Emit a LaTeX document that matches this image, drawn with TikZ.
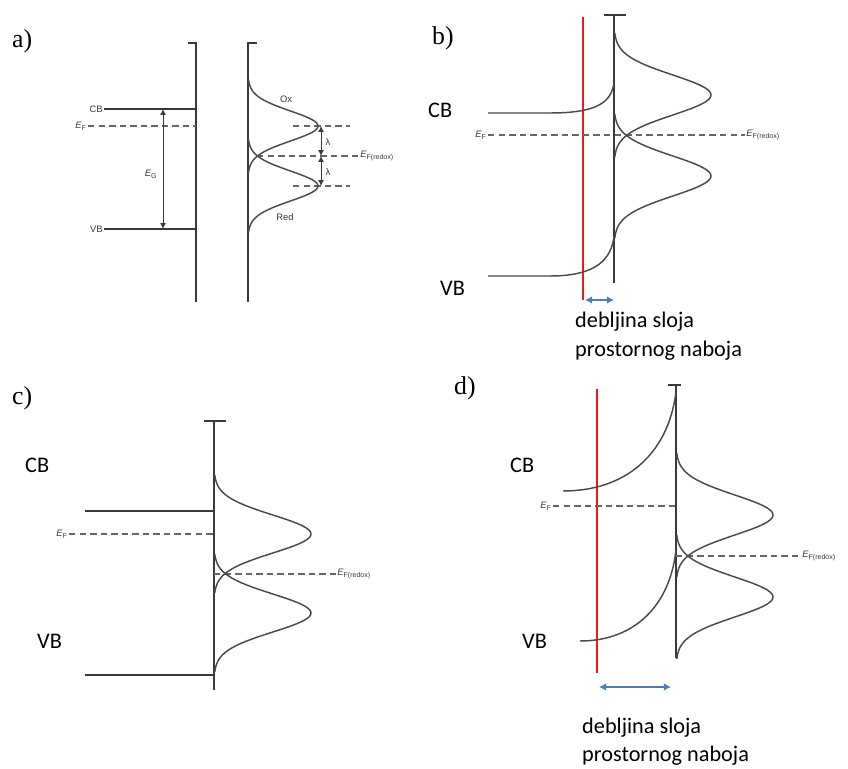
\documentclass[tikz,border=0pt]{standalone}
\usepackage{fontspec}
\setmainfont{Liberation Sans}
\newfontfamily\carlito{Carlito}
\newfontfamily\serifpl{Liberation Serif}
\usepackage{tikz}
\usetikzlibrary{arrows.meta,positioning,calc}
\definecolor{bdLine}{HTML}{3A3A3A}
\definecolor{bdCurve}{HTML}{4A4A4A}
\definecolor{bdDash}{HTML}{666666}
\definecolor{bdBlue}{HTML}{4A7EBB}
\definecolor{bdRed}{HTML}{F21818}
\newcommand{\ef}[1]{{\itshape E}\textsubscript{#1}}

\begin{document}
\begin{tikzpicture}[x=0.03cm,y=-0.03cm,
  el/.style={draw=bdLine,line width=1.7pt},
  band/.style={draw=bdLine,line width=1.4pt},
  curve/.style={draw=bdCurve,line width=1.25pt},
  lvl/.style={draw=bdDash,line width=1.1pt,dash pattern=on 5.5pt off 3.5pt},
  panel/.style={font=\serifpl\fontsize{22}{24}\selectfont,inner sep=0pt,anchor=base west},
  big/.style={font=\carlito\fontsize{19}{23}\selectfont,inner sep=0pt,anchor=base west},
  small/.style={font=\fontsize{8}{9}\selectfont,text=bdLine,inner sep=1pt},
  ar/.style={draw=bdLine,line width=0.8pt,{Latex[length=5pt,width=5pt]}-{Latex[length=5pt,width=5pt]}},
  layer/.style={draw=bdBlue,line width=1.6pt,{Latex[length=6pt,width=6.5pt]}-{Latex[length=6pt,width=6.5pt]}},
  surf/.style={draw=bdRed,line width=1.5pt}
]
\useasboundingbox (0,0) rectangle (848,769);

% a)
\node[panel] (la) at (12,48) {a)};
\draw[el] (188,43) -- (196,43) -- (196,302);
\draw[el] (257,43) -- (248,43) -- (248,302);
\node[small,anchor=east] (cbA) at (104,109) {CB};
\node[small,anchor=east] (efA) at (88,126) {\ef{F}};
\node[small,anchor=east] (vbA) at (104,229) {VB};
\draw[band] (cbA.east) -- (196,109);
\draw[band] (vbA.east) -- (196,229);
\draw[lvl] (efA.east) -- (196,126);
\coordinate (egT) at (163,109);
\coordinate (egB) at (163,229);
\draw[ar] (egT) -- (egB);
\node[small] (egA) at (151,174) {\ef{G}};
\node[small] (ox) at (286,99) {Ox};
\node[small] (red) at (285,217) {Red};
\draw[lvl] (293,126) -- (350,126);
\draw[lvl] (293,186) -- (350,186);
\node[small,anchor=west] (efrA) at (359,156) {\ef{F(redox)}};
\draw[lvl] (257,156) -- (efrA.west);
\coordinate (l1) at (321,126);
\coordinate (l2) at (321,156);
\coordinate (l3) at (321,186);
\draw[ar] (l1) -- (l2);
\draw[ar] (l2) -- (l3);
\node[small] (lam1) at (328,142) {λ};
\node[small] (lam2) at (328,172) {λ};

% b)
\node[panel] (lb) at (432,45) {b)};
\draw[el] (604,15) -- (626,15);
\draw[band] (614,15) -- (614,283);
\draw[surf] (583,17) -- (583,300);
\node[big] (cbB) at (428,118) {CB};
\node[big] (vbB) at (440,296) {VB};
\draw[curve] (488,113) -- (550,113) .. controls (598,113) and (611,102) .. (614,83);
\draw[curve] (488,276) -- (550,276) .. controls (598,276) and (611,258) .. (614,237);
\node[small,anchor=east] (efB) at (488,135) {\ef{F}};
\node[small,anchor=west] (efrB) at (745,135) {\ef{F(redox)}};
\draw[lvl] (efB.east) -- (efrB.west);
\coordinate (wB1) at (585,300);
\coordinate (wB2) at (614,300);
\draw[layer] (wB1) -- (wB2);
\node[big] (dbB1) at (575,328) {debljina sloja};
\node[big] (dbB2) at (575,356) {prostornog naboja};

% c)
\node[panel] (lc) at (12,404) {c)};
\draw[el] (204,421) -- (226,421);
\draw[band] (214,421) -- (214,690);
\node[big] (cbC) at (25,472) {CB};
\node[big] (vbC) at (37,648) {VB};
\draw[band] (85,511) -- (214,511);
\draw[band] (85,675) -- (214,675);
\node[small,anchor=east] (efC) at (69,534) {\ef{F}};
\draw[lvl] (efC.east) -- (214,534);
\node[small,anchor=west] (efrC) at (336,574) {\ef{F(redox)}};
\draw[lvl] (214,574) -- (efrC.west);

% d)
\node[panel] (ld) at (454,394) {d)};
\draw[el] (668,385) -- (681,385);
\draw[band] (676,385) -- (676,658);
\draw[surf] (597,389) -- (597,673);
\node[big] (cbD) at (510,472) {CB};
\node[big] (vbD) at (522,648) {VB};
\draw[curve] (563,491) .. controls (625,491) and (668,455) .. (676,392);
\draw[curve] (580,641) .. controls (635,641) and (670,605) .. (676,550);
\node[small,anchor=east] (efD) at (553,506) {\ef{F}};
\draw[lvl] (efD.east) -- (676,506);
\node[small,anchor=west] (efrD) at (801,556) {\ef{F(redox)}};
\draw[lvl] (676,556) -- (efrD.west);
\coordinate (wD1) at (599,687);
\coordinate (wD2) at (671,687);
\draw[layer] (wD1) -- (wD2);
\node[big] (dbD1) at (582,733) {debljina sloja};
\node[big] (dbD2) at (582,761) {prostornog naboja};

% redox levels (Ox / Red)
\foreach \bx/\py/\amp/\sg in {248/126/70/15,248/186/70/15,614/95/97/20,614/176/97/20,
    214/534/97/19,214/613/97/19,676/515/97/20,676/597/97/20}
  \draw[curve] plot[domain=-3.1:3.1,samples=70,smooth] ({\bx+\amp*exp(-0.5*(\x)*(\x))},{\py+\sg*\x});
\end{tikzpicture}
\end{document}
